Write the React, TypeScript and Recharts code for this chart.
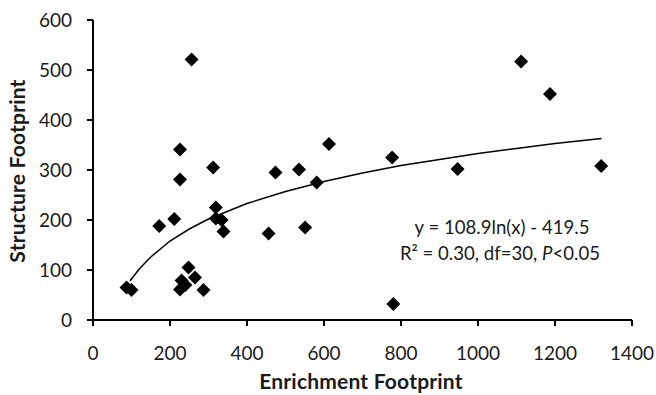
import { ScatterChart, Scatter, XAxis, YAxis } from 'recharts';

// enrichment footprint (x) vs structure footprint (y)
const enrichment = [87, 100, 172, 211, 226, 226, 256, 248, 230, 265, 226, 240, 287, 312, 319, 319, 334, 339, 456, 474, 535, 551, 581, 613, 777, 780, 947, 1112, 1187, 1320];
const structure = [65, 60, 188, 202, 341, 281, 521, 105, 79, 85, 61, 70, 60, 305, 225, 203, 200, 177, 173, 295, 301, 185, 275, 352, 325, 32, 302, 517, 452, 308];

// points along the logarithmic trend line
const trendX = [96, 120, 150, 200, 250, 300, 400, 500, 600, 700, 800, 900, 1000, 1100, 1200, 1321];
const trendY = [78, 102, 126, 158, 182, 202, 233, 257, 277, 294, 309, 321, 333, 343, 353, 363];

const xTicks = [0, 200, 400, 600, 800, 1000, 1200, 1400];
const yTicks = [0, 100, 200, 300, 400, 500, 600];

const points = enrichment.map((x, i) => ({ x, y: structure[i] }));
const trend = trendX.map((x, i) => ({ x, y: trendY[i] }));

const FONT = 'Lato, "Open Sans", sans-serif';
const INK = '#1a1a1a';

const Diamond = (props: any) => {
  const { cx, cy } = props;
  const r = 7;
  return <polygon points={`${cx},${cy - r} ${cx + r},${cy} ${cx},${cy + r} ${cx - r},${cy}`} fill="#000" />;
};

const titleStyle = { fill: INK, fontSize: 21, fontWeight: 700, fontFamily: FONT, letterSpacing: 0.2 };

export default function App() {
  return (
    <div style={{ position: 'absolute', left: 0, top: 0, background: '#fff' }}>
      <ScatterChart width={656} height={395} margin={{ top: 20, right: 24, left: 0, bottom: 0 }}>
        <XAxis
          type="number"
          dataKey="x"
          domain={[0, 1400]}
          ticks={xTicks}
          height={75}
          axisLine={{ stroke: '#000', strokeWidth: 2 }}
          tickLine={{ stroke: '#000', strokeWidth: 2 }}
          tickSize={6}
          tickMargin={21}
          tick={{ fill: INK, fontSize: 19, fontFamily: FONT }}
          allowDataOverflow
          label={{
            content: () => (
              <text x={361} y={389} textAnchor="middle" style={titleStyle}>
                Enrichment Footprint
              </text>
            ),
          }}
        />
        <YAxis
          type="number"
          dataKey="y"
          domain={[0, 600]}
          ticks={yTicks}
          width={93}
          axisLine={{ stroke: '#000', strokeWidth: 2 }}
          tickLine={{ stroke: '#000', strokeWidth: 2 }}
          tickSize={6}
          tickMargin={15}
          tick={{ fill: INK, fontSize: 19, fontFamily: FONT }}
          allowDataOverflow
          label={{
            content: () => (
              <text x={25} y={171} transform="rotate(-90 25 171)" textAnchor="middle" style={titleStyle}>
                Structure Footprint
              </text>
            ),
          }}
        />
        <Scatter
          data={trend}
          line={{ stroke: '#000', strokeWidth: 1.5 }}
          lineType="joint"
          shape={() => <g />}
          isAnimationActive={false}
        />
        <Scatter data={points} shape={Diamond} isAnimationActive={false} />
        <text x={502} y={234} textAnchor="middle" fill={INK} fontSize={18.6} fontFamily={FONT}>
          y = 108.9ln(x) - 419.5
        </text>
        <text x={500} y={260} textAnchor="middle" fill={INK} fontSize={18.6} fontFamily={FONT}>
          R² = 0.30, df=30, <tspan fontStyle="italic">P</tspan>&lt;0.05
        </text>
      </ScatterChart>
    </div>
  );
}
